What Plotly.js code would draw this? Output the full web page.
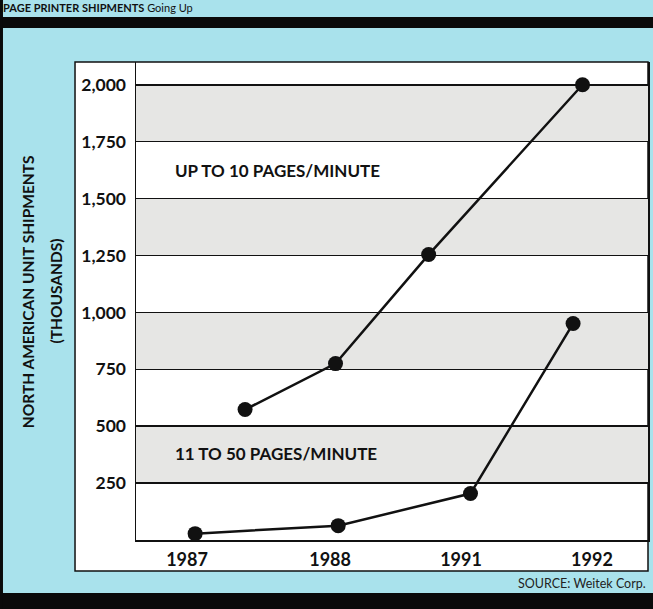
<!DOCTYPE html>
<html>
<head>
<meta charset="utf-8">
<script src="https://cdn.plot.ly/plotly-3.0.1.min.js"></script>
<style>html,body{margin:0;padding:0;background:#a9e2ec;}#chart{width:653px;height:609px;}</style>
</head>
<body>
<div id="chart"></div>
<script>
// Category tick labels and their positions on the x axis (unit spacing)
const years = ["1987", "1988", "1991", "1992"];
const yearPos = [0, 1.06, 2.03, 3.0];

// Series: UP TO 10 PAGES/MINUTE (thousands of units)
const upTo10X = [0.43, 1.10, 1.79, 2.93];
const upTo10Y = [573, 775, 1254, 2000];

// Series: 11 TO 50 PAGES/MINUTE (thousands of units)
const to50X = [0.06, 1.12, 2.10, 2.86];
const to50Y = [28, 63, 204, 951];

// Y-axis ticks
const yTicks = [250, 500, 750, 1000, 1250, 1500, 1750, 2000];
const yTickText = ["250", "500", "750", "1,000", "1,250", "1,500", "1,750", "2,000"];

const FONT = "Lato, 'Open Sans', sans-serif";

const traceStyle = {
  mode: "lines+markers",
  line: {color: "#111", width: 2.5},
  marker: {color: "#111", size: 15},
  hoverinfo: "x+y",
  showlegend: false
};

const traces = [
  Object.assign({x: upTo10X, y: upTo10Y, name: "UP TO 10 PAGES/MINUTE"}, traceStyle),
  Object.assign({x: to50X, y: to50Y, name: "11 TO 50 PAGES/MINUTE"}, traceStyle)
];

// alternating grey bands between gridlines
const bands = [];
for (let i = 0; i < yTicks.length; i += 2) {
  bands.push({
    type: "rect", xref: "paper", yref: "y", layer: "below",
    x0: 0, x1: 1, y0: yTicks[i], y1: yTicks[i + 1],
    fillcolor: "#e6e6e4", line: {width: 0}
  });
}

const layout = {
  width: 653, height: 609,
  margin: {l: 136, r: 5, t: 62, b: 69},
  paper_bgcolor: "#a9e2ec",
  plot_bgcolor: "#ffffff",
  font: {family: FONT, color: "#111"},
  xaxis: {
    range: [-0.378, 3.415],
    tickvals: yearPos, ticktext: years,
    showgrid: false, zeroline: false,
    showline: true, linecolor: "#111", linewidth: 1.5,
    ticks: "outside", ticklen: 3, tickcolor: "rgba(0,0,0,0)",
    tickfont: {family: FONT, size: 18, weight: 700, color: "#111"}
  },
  yaxis: {
    range: [0, 2100],
    tickvals: yTicks, ticktext: yTickText,
    showgrid: true, gridcolor: "#111", gridwidth: 1.5,
    zeroline: false,
    showline: true, mirror: true, linecolor: "#111", linewidth: 1.5,
    ticks: "outside", ticklen: 5, tickcolor: "rgba(0,0,0,0)",
    tickfont: {family: FONT, size: 17.5, weight: 700, color: "#111"}
  },
  shapes: [
    // white panel behind labels and plot
    {type: "rect", xref: "paper", yref: "paper", layer: "below",
     x0: -0.1191, x1: 1.0, y0: -0.0649, y1: 1.0,
     fillcolor: "#ffffff", line: {color: "#111", width: 1.5}},
    // black band near top
    {type: "rect", xref: "paper", yref: "paper", layer: "below",
     x0: -0.3, x1: 1.05, y0: 1.0711, y1: 1.0941,
     fillcolor: "#0a0a0a", line: {width: 0}},
    // black band at bottom
    {type: "rect", xref: "paper", yref: "paper", layer: "below",
     x0: -0.3, x1: 1.05, y0: -0.16, y1: -0.1109,
     fillcolor: "#0a0a0a", line: {width: 0}},
    // left black edge
    {type: "rect", xref: "paper", yref: "paper", layer: "below",
     x0: -0.3, x1: -0.2598, y0: -0.16, y1: 1.2,
     fillcolor: "#0a0a0a", line: {width: 0}}
  ].concat(bands),
  annotations: [
    {xref: "paper", yref: "paper", x: -0.2616, y: 1.1130, xanchor: "left", yanchor: "middle",
     showarrow: false, borderpad: 0, text: "<b>PAGE PRINTER SHIPMENTS</b> Going Up",
     font: {family: FONT, size: 11, color: "#111"}},
    {xref: "paper", yref: "paper", x: 0.0723, y: 0.774, xanchor: "left", yanchor: "middle",
     showarrow: false, text: "UP TO 10 PAGES/MINUTE",
     font: {family: FONT, size: 17, weight: 700, color: "#111"}},
    {xref: "paper", yref: "paper", x: 0.0723, y: 0.182, xanchor: "left", yanchor: "middle",
     showarrow: false, text: "11 TO 50 PAGES/MINUTE",
     font: {family: FONT, size: 17, weight: 700, color: "#111"}},
    {xref: "paper", yref: "paper", x: 1.0, y: -0.090, xanchor: "right", yanchor: "middle",
     showarrow: false, text: "SOURCE: Weitek Corp.",
     font: {family: FONT, size: 12.5, color: "#222"}},
    {xref: "paper", yref: "paper", x: -0.2094, y: 0.52, xanchor: "center", yanchor: "middle",
     showarrow: false, textangle: -90, text: "NORTH AMERICAN UNIT SHIPMENTS",
     font: {family: FONT, size: 15.5, weight: 700, color: "#111"}},
    {xref: "paper", yref: "paper", x: -0.1562, y: 0.52, xanchor: "center", yanchor: "middle",
     showarrow: false, textangle: -90, text: "(THOUSANDS)",
     font: {family: FONT, size: 15.5, weight: 700, color: "#111"}}
  ]
};

Plotly.newPlot("chart", traces, layout, {displayModeBar: false, staticPlot: true});
</script>
</body>
</html>
